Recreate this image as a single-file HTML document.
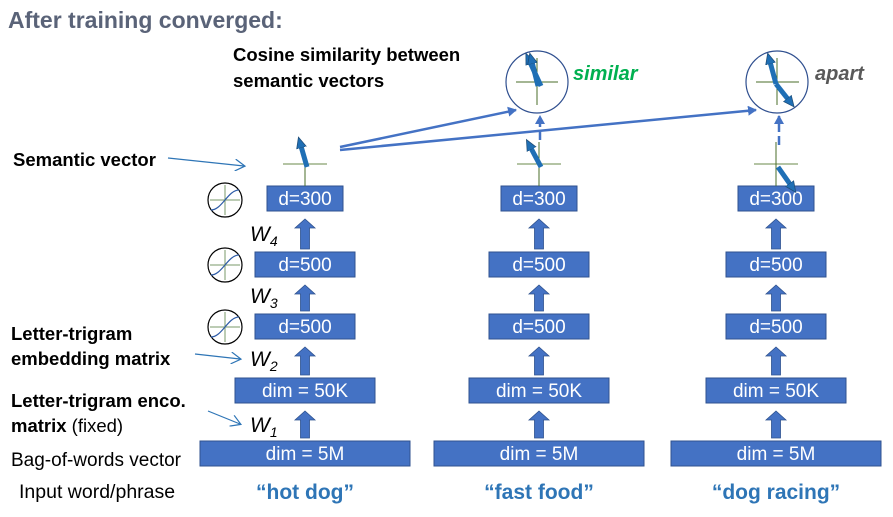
<!DOCTYPE html>
<html><head><meta charset="utf-8"><style>
body{margin:0;background:#fff;}
svg{display:block;font-family:"Liberation Sans",Arial,sans-serif;}
</style></head><body>
<svg id="s" width="893" height="517" viewBox="0 0 893 517">
<defs>
<marker id="ah" markerWidth="10" markerHeight="10" refX="8" refY="5" orient="auto" markerUnits="userSpaceOnUse"><path d="M0,0 L9,5 L0,10 z" fill="#4472c4"/></marker>
<marker id="ht" markerWidth="12" markerHeight="12" refX="9" refY="6" orient="auto" markerUnits="userSpaceOnUse"><path d="M0,0 L10,6 L0,12" fill="none" stroke="#2e75b6" stroke-width="1.2"/></marker>
<marker id="vh" markerWidth="12" markerHeight="12" refX="6" refY="6" orient="auto" markerUnits="userSpaceOnUse"><path d="M0,1 L11,6 L0,11 z" fill="#1f6fb5" stroke="#1f4e79" stroke-width="0.8"/></marker>
</defs>
<text x="8" y="28" font-size="23" font-weight="bold" fill="#5a6378">After training converged:</text>
<text x="233" y="61" font-size="18.5" font-weight="bold" fill="#000">Cosine similarity between</text>
<text x="233" y="87" font-size="18.5" font-weight="bold" fill="#000">semantic vectors</text>
<text x="13" y="166" font-size="18.5" font-weight="bold">Semantic vector</text>
<line x1="168" y1="158" x2="244" y2="166" stroke="#2e75b6" stroke-width="1.2" marker-end="url(#ht)"/>
<text x="11" y="340" font-size="18.5" font-weight="bold">Letter-trigram</text>
<text x="11" y="365" font-size="18.5" font-weight="bold">embedding matrix</text>
<line x1="195" y1="354" x2="240" y2="359" stroke="#2e75b6" stroke-width="1.2" marker-end="url(#ht)"/>
<text x="11" y="407" font-size="18.5" font-weight="bold">Letter-trigram enco.</text>
<text x="11" y="432" font-size="18.5"><tspan font-weight="bold">matrix</tspan> (fixed)</text>
<line x1="208" y1="411" x2="240" y2="424" stroke="#2e75b6" stroke-width="1.2" marker-end="url(#ht)"/>
<text x="11" y="466" font-size="19">Bag-of-words vector</text>
<text x="19" y="498" font-size="19.5">Input word/phrase</text>
<g font-size="21" font-style="italic" fill="#000">
<text x="250" y="241">W<tspan font-size="14" dy="5">4</tspan></text>
<text x="250" y="303">W<tspan font-size="14" dy="5">3</tspan></text>
<text x="250" y="366">W<tspan font-size="14" dy="5">2</tspan></text>
<text x="250" y="432">W<tspan font-size="14" dy="5">1</tspan></text>
</g>
<g id="tanh"></g>
<g id="cols"></g>
<g>
<circle cx="537" cy="82" r="31" fill="none" stroke="#2f4f8f" stroke-width="1.2"/>
<line x1="516" y1="82" x2="558" y2="82" stroke="#4a6e2a"/><line x1="537" y1="58" x2="537" y2="105" stroke="#4a6e2a"/>
<line x1="541" y1="86" x2="528" y2="58" stroke="#1f6fb5" stroke-width="5" marker-end="url(#vh)"/>
<line x1="538" y1="86" x2="531" y2="58" stroke="#1f6fb5" stroke-width="5" marker-end="url(#vh)"/>
</g>
<text x="573" y="80" font-size="20" font-weight="bold" font-style="italic" fill="#00b050">similar</text>
<g>
<circle cx="777" cy="82" r="31" fill="none" stroke="#2f4f8f" stroke-width="1.2"/>
<line x1="756" y1="82" x2="799" y2="82" stroke="#4a6e2a"/><line x1="777" y1="58" x2="777" y2="105" stroke="#4a6e2a"/>
<line x1="776" y1="84" x2="769" y2="58" stroke="#1f6fb5" stroke-width="5" marker-end="url(#vh)"/>
<line x1="776" y1="84" x2="791" y2="103" stroke="#1f6fb5" stroke-width="5" marker-end="url(#vh)"/>
</g>
<text x="815" y="80" font-size="20" font-weight="bold" font-style="italic" fill="#595959">apart</text>
<line x1="340" y1="147" x2="516" y2="110" stroke="#4472c4" stroke-width="2.5" marker-end="url(#ah)"/>
<line x1="340" y1="150" x2="756" y2="110" stroke="#4472c4" stroke-width="2.5" marker-end="url(#ah)"/>
<line x1="540" y1="140" x2="540" y2="116" stroke="#4472c4" stroke-width="2.5" stroke-dasharray="9,4" marker-end="url(#ah)"/>
<line x1="779" y1="145" x2="779" y2="116" stroke="#4472c4" stroke-width="2.5" stroke-dasharray="9,4" marker-end="url(#ah)"/>
</svg>
<script>
const NS="http://www.w3.org/2000/svg";
const colCenters=[305,539,776];
const phrases=["\u201chot dog\u201d","\u201cfast food\u201d","\u201cdog racing\u201d"];
const layerLabels=["dim = 5M","dim = 50K","d=500","d=500","d=300"];
const layerWidths=[210,140,100,100,76];
const layerTops=[441,378,314,252,186];
const vecAngles=[-16,-28,145];
function mk(tag,attrs,parent){const e=document.createElementNS(NS,tag);for(const k in attrs)e.setAttribute(k,attrs[k]);parent.appendChild(e);return e;}
const cols=document.getElementById('cols');
colCenters.forEach((cx,ci)=>{
  const g=mk('g',{},cols);
  
  
  layerLabels.forEach((lab,li)=>{
    const w=layerWidths[li],y=layerTops[li];
    const r=mk('rect',{x:cx-w/2,y:y,width:w,height:25,fill:'#4472c4',stroke:'#2f528f','stroke-width':1},g);
    
    
    const t=mk('text',{x:cx,y:y+19,'text-anchor':'middle','font-size':19,fill:'#fff'},g);
    
    
    t.textContent=lab;
    if(li<layerLabels.length-1){
      const yb=y-3, yt=layerTops[li+1]+25+8;
      const a=mk('path',{d:`M${cx-4.5},${yb} L${cx-4.5},${yt+9} L${cx-10},${yt+9} L${cx},${yt} L${cx+10},${yt+9} L${cx+4.5},${yt+9} L${cx+4.5},${yb} Z`,fill:'#4472c4',stroke:'#2f528f','stroke-width':0.8},g);
      
      
    }
  });
  const p=mk('text',{x:cx,y:499,'text-anchor':'middle','font-size':21,'font-weight':'bold',fill:'#2e75b6'},g);
  
  
  p.textContent=phrases[ci];
  const vy=164;
  mk('line',{x1:cx-22,y1:vy,x2:cx+22,y2:vy,stroke:'#6a8a4a','stroke-width':1},g);
  mk('line',{x1:cx,y1:ci==0?vy:vy-22,x2:cx,y2:186,stroke:'#4a6e2a','stroke-width':1},g);
  const a=vecAngles[ci]*Math.PI/180,L=26;
  const v=mk('line',{x1:cx+2,y1:vy+3,x2:cx+2+L*Math.sin(a),y2:vy+3-L*Math.cos(a),stroke:'#1f6fb5','stroke-width':5,'marker-end':'url(#vh)'},g);
  
  
});
const tg=document.getElementById('tanh');
[200,265,327].forEach(y=>{
  const g=mk('g',{},tg);
  
  
  mk('circle',{cx:225,cy:y,r:17,fill:'#fff',stroke:'#000','stroke-width':1.2},g);
  mk('line',{x1:210,y1:y,x2:240,y2:y,stroke:'#7a9a6a'},g);
  mk('line',{x1:225,y1:y-15,x2:225,y2:y+15,stroke:'#7a9a6a'},g);
  mk('path',{d:`M211,${y+10} C222,${y+10} 228,${y-10} 239,${y-10}`,fill:'none',stroke:'#2e5ca8','stroke-width':1.2},g);
});
</script>
</body></html>
